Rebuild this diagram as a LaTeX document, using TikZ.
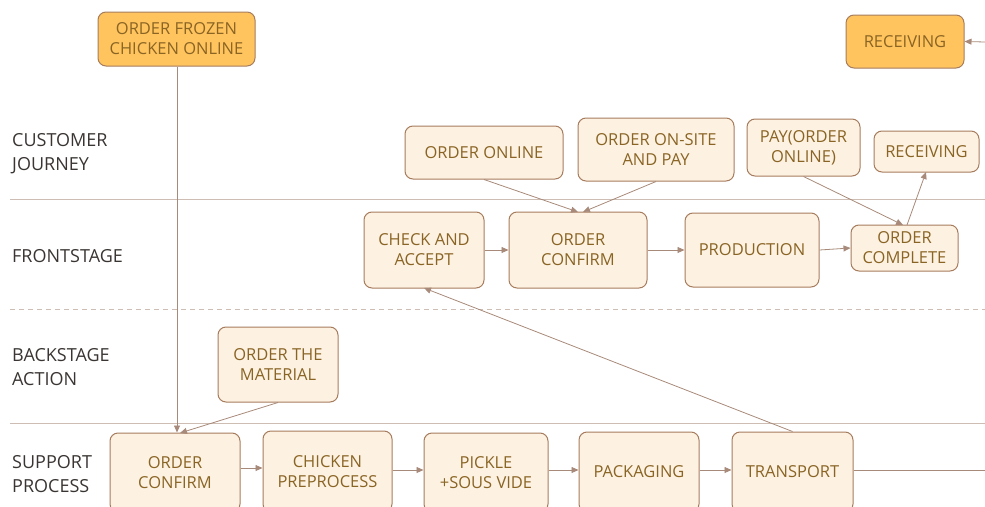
\documentclass[tikz,border=0pt]{standalone}
\usepackage{fontspec}
\setmainfont{Open Sans}
\usetikzlibrary{arrows.meta}
\definecolor{boxfill}{HTML}{FDF2E2}
\definecolor{boxline}{HTML}{A67C5E}
\definecolor{boxtext}{HTML}{8A6424}
\definecolor{hotfill}{HTML}{FFC45E}
\definecolor{laneline}{HTML}{CDBDB2}
\definecolor{flow}{HTML}{A88A7A}
\definecolor{lanetext}{HTML}{3A3533}
\tikzset{
  stepbox/.style={draw=boxline, fill=boxfill, line width=1pt, rounded corners=8pt,
    text=boxtext, align=center, inner sep=0pt, font=\fontsize{16.5}{20}\selectfont},
  hotbox/.style={stepbox, fill=hotfill},
  lanelabel/.style={anchor=west, align=left, text=lanetext, inner sep=0pt,
    font=\fontsize{18}{24}\selectfont},
  flowline/.style={draw=flow, line width=0.8pt, -{Triangle[length=7pt,width=6pt]}},
  plainflow/.style={draw=flow, line width=0.8pt},
  lanesep/.style={draw=laneline, line width=1pt}
}
% \boxat{style}{name}{x1}{y1}{x2}{y2} {text}; places a box by its corners
\newcommand{\boxat}[6]{%
  \node[#1, minimum width=#5-#3, minimum height=#6-#4] (#2) at ({(#3+#5)/2},{(#4+#6)/2})}
\begin{document}
\begin{tikzpicture}[x=1pt,y=-1pt]
\useasboundingbox (0,0) rectangle (985,506);
\clip (0,0) rectangle (985,506);

% lane separators
\draw[lanesep] (10,199) -- (985,199);
\draw[lanesep, dash pattern=on 5pt off 4pt] (10,309) -- (985,309);
\draw[lanesep] (10,423) -- (985,423);

% lane labels
\node[lanelabel] (lcj) at (12,154) {CUSTOMER\\JOURNEY};
\node[lanelabel] (lfs) at (12,256) {FRONTSTAGE};
\node[lanelabel] (lba) at (12,367) {BACKSTAGE\\ACTION};
\node[lanelabel] (lsp) at (12,474) {SUPPORT\\PROCESS};

% highlighted start / end
\boxat{hotbox}{frozen}{98}{12}{255}{66} {ORDER FROZEN\\CHICKEN ONLINE};
\boxat{hotbox}{recvtop}{846}{15}{964}{68} {RECEIVING};

% customer journey
\boxat{stepbox}{online}{405}{126}{563}{179} {ORDER ONLINE};
\boxat{stepbox}{onsite}{578}{118}{734}{181} {ORDER ON-SITE\\AND PAY};
\boxat{stepbox}{pay}{747}{119}{860}{176} {PAY(ORDER\\ONLINE)};
\boxat{stepbox}{recv}{874}{131}{979}{172} {RECEIVING};

% frontstage
\boxat{stepbox}{check}{364}{212}{484}{288} {CHECK AND\\ACCEPT};
\boxat{stepbox}{fconfirm}{509}{212}{647}{288} {ORDER\\CONFIRM};
\boxat{stepbox}{prod}{685}{213}{819}{287} {PRODUCTION};
\boxat{stepbox}{complete}{851}{225}{958}{271} {ORDER\\COMPLETE};

% backstage
\boxat{stepbox}{material}{218}{327}{338}{402} {ORDER THE\\MATERIAL};

% support process
\boxat{stepbox}{sconfirm}{110}{433}{240}{512} {ORDER\\CONFIRM};
\boxat{stepbox}{prep}{263}{431}{392}{512} {CHICKEN\\PREPROCESS};
\boxat{stepbox}{pickle}{424}{433}{548}{512} {PICKLE\\+SOUS VIDE};
\boxat{stepbox}{pack}{579}{432}{699}{512} {PACKAGING};
\boxat{stepbox}{trans}{732}{432}{853}{512} {TRANSPORT};

% off-page ends
\coordinate (eastout) at (985,470);
\coordinate (eastin) at (985,42);

% connectors
\draw[flowline] (frozen.south -| 177,0) -- (sconfirm.north -| 177,0);
\draw[flowline] (material.south) -- (180,433);
\draw[flowline] (online.south) -- (578,212);
\draw[flowline] (onsite.south) -- (583,212);
\draw[flowline] (check.east) -- (fconfirm.west);
\draw[flowline] (fconfirm.east) -- (prod.west);
\draw[flowline] (prod.east) -- (complete.west);
\draw[flowline] (pay.south) -- (903,225);
\draw[flowline] (907,225) -- (926,172);
\draw[flowline] (trans.north) -- (424,288);
\draw[flowline] (sconfirm.east |- 0,468) -- (prep.west |- 0,468);
\draw[flowline] (prep.east |- 0,470) -- (pickle.west |- 0,470);
\draw[flowline] (pickle.east |- 0,470) -- (pack.west |- 0,470);
\draw[flowline] (pack.east |- 0,470) -- (trans.west |- 0,470);
\draw[plainflow] (trans.east |- 0,470) -- (eastout);
\draw[flowline] (eastin) -- (recvtop.east);
\end{tikzpicture}
\end{document}
